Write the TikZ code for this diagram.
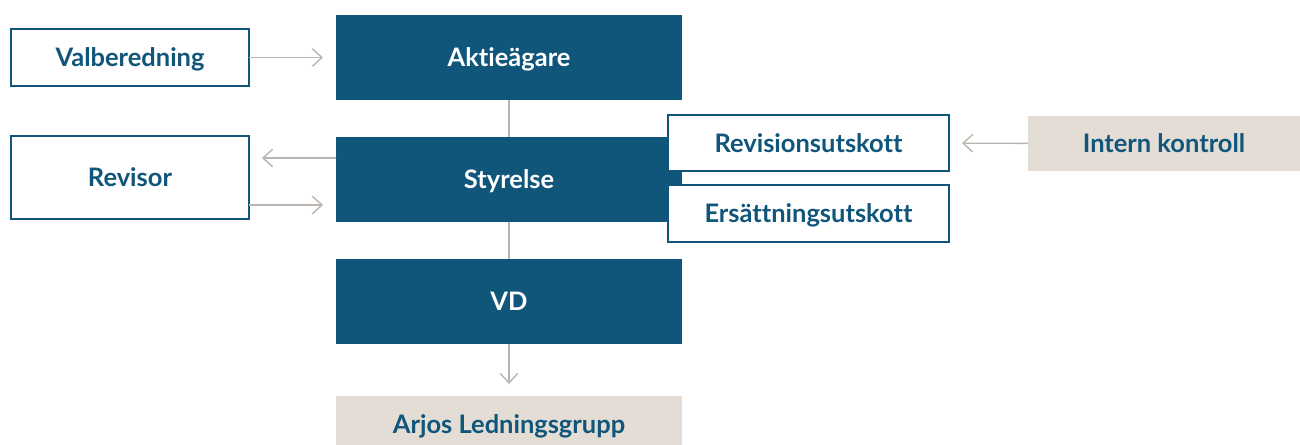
\documentclass[tikz,border=0pt]{standalone}
\usepackage{fontspec}
\setmainfont{Lato}[Ligatures=NoCommon]
\usetikzlibrary{arrows.meta}
\definecolor{teal}{HTML}{10557A}
\definecolor{sand}{HTML}{E3DDD6}
\definecolor{wire}{HTML}{BCB4AE}
\begin{document}
\begin{tikzpicture}[x=0.02cm,y=-0.02cm,
    box/.style={rectangle,inner sep=0pt,outer sep=0pt,text height=10.4pt,text depth=0pt,
      font=\bfseries\fontsize{14.5}{16}\selectfont},
    dark/.style={box,fill=teal,text=white,minimum width=6.92cm,minimum height=1.70cm},
    light/.style={box,draw=teal,line width=0.85pt,fill=white,text=teal},
    sandbox/.style={box,fill=sand,text=teal},
    conn/.style={draw=wire,line width=0.8pt,>={Straight Barb[length=5.5pt,width=10pt]}}]
  \useasboundingbox (0,0) rectangle (1300,444);
  \clip (0,0) rectangle (1300,444);
  \node[dark] (akt) at (509,57.5) {Aktieägare};
  \node[dark] (sty) at (509,179.5) {Styrelse};
  \node[dark] (vd) at (509,301.5) {VD};
  \node[sandbox,minimum width=6.92cm,minimum height=1.12cm] (arj) at (509,424) {Arjos Ledningsgrupp};
  \node[light,minimum width=4.76cm,minimum height=1.14cm] (val) at (130,57.5) {Valberedning};
  \node[light,minimum width=4.76cm,minimum height=1.66cm] (rev) at (130,177.5) {Revisor};
  \node[light,minimum width=5.62cm,minimum height=1.12cm] (revu) at (808.5,143) {Revisionsutskott};
  \node[light,minimum width=5.62cm,minimum height=1.14cm] (ers) at (808.5,213.5) {Ersättningsutskott};
  \node[sandbox,minimum width=5.44cm,minimum height=1.10cm] (int) at (1164,143.5) {Intern kontroll};
  \coordinate (sty-out) at ([yshift=0.43cm]sty.west);
  \coordinate (rev-out) at ([yshift=-0.55cm]rev.east);
  \begin{scope}[conn]
    \draw (akt) to (sty);
    \draw (sty) to (vd);
    \draw[->,shorten >=0.26cm] (val) to (akt);
    \draw[->,shorten >=0.26cm] (sty-out) to (sty-out -| rev.east);
    \draw[->,shorten >=0.26cm] (rev-out) to (rev-out -| sty.west);
    \draw[->,shorten >=0.26cm] (int) to (revu);
    \draw[->,shorten >=0.24cm] (vd) to (arj);
  \end{scope}
\end{tikzpicture}
\end{document}
